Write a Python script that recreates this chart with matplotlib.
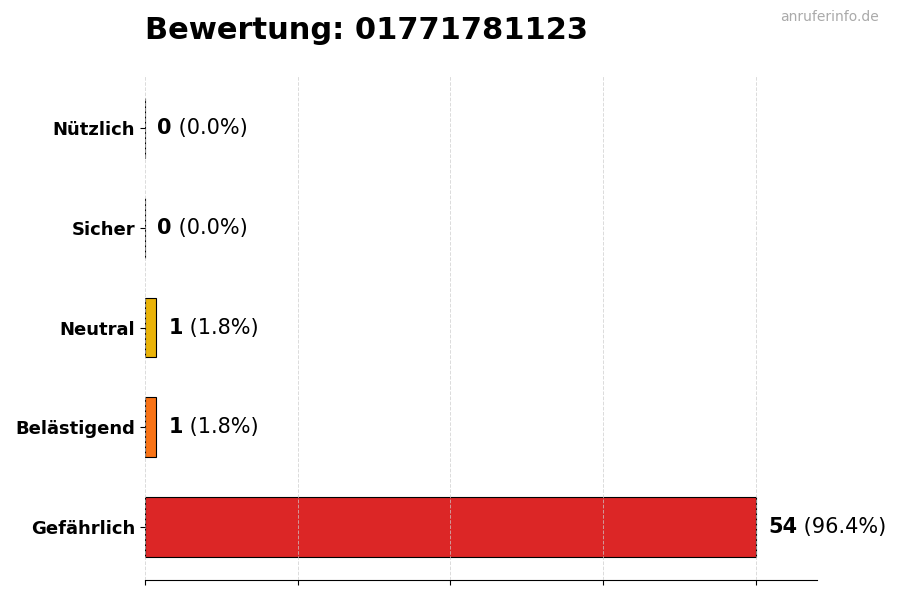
#!/usr/bin/env python3
"""
Rating chart for a phone number
"""

import numpy as np
import matplotlib
matplotlib.use('Agg')
import matplotlib.pyplot as plt

PHONE = '01771781123'
categories = ['Nützlich', 'Sicher', 'Neutral', 'Belästigend', 'Gefährlich']
counts = [0, 0, 1, 1, 54]
colors = ['#16a34a', '#22c55e', '#eab308', '#f97316', '#dc2626']


def plot_rating():
    total = sum(counts)
    max_val = max(counts)

    fig = plt.figure(figsize=(9, 6), dpi=100)
    ax = fig.add_axes([0.161, 0.0333, 0.747, 0.8417])

    y_positions = np.arange(len(categories))
    ax.barh(y_positions, counts, height=0.6, color=colors,
            edgecolor='black', linewidth=0.8, zorder=1)
    ax.invert_yaxis()

    ax.set_yticks(y_positions)
    ax.set_yticklabels(categories, fontsize=13, fontweight='bold')

    ax.set_xlim(0, max_val * 1.1)
    ax.set_xticks(np.linspace(0, max_val, 5))
    ax.set_xticklabels([])
    ax.grid(axis='x', color='#cccccc', linestyle='--', linewidth=0.7, alpha=0.7, zorder=2)
    ax.set_axisbelow(False)

    for side in ['top', 'right', 'left']:
        ax.spines[side].set_visible(False)

    for i, val in enumerate(counts):
        pct = 100.0 * val / total
        t = ax.text(val + max_val * 0.02, i, f'{val}', ha='left', va='center',
                    fontsize=15, fontweight='bold')
        ax.annotate(f' ({pct:.1f}%)', xy=(1, 0), xycoords=t, ha='left', va='bottom',
                    fontsize=15)

    ax.set_title(f'Bewertung: {PHONE}', loc='left', fontsize=22, fontweight='bold', pad=26)
    fig.text(0.976, 0.971, 'anruferinfo.de', ha='right', va='center',
             fontsize=10, color='#aaaaaa')

    fig.savefig('out.png', dpi=100, facecolor='white')
    plt.close(fig)


if __name__ == '__main__':
    plot_rating()
